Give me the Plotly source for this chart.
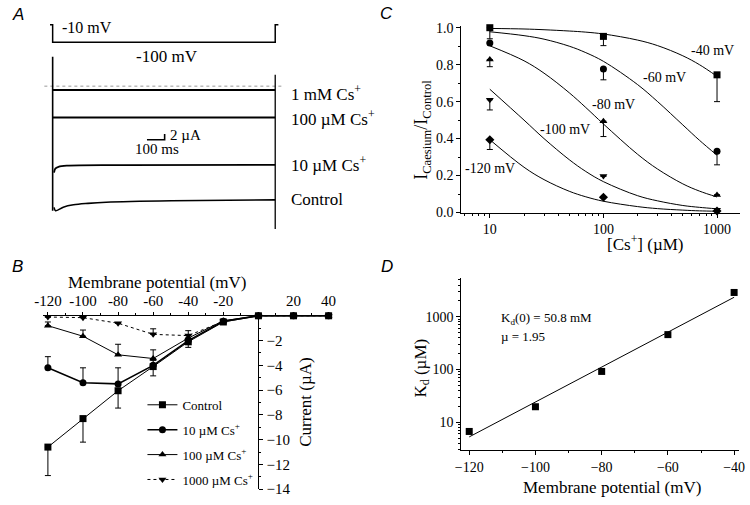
import plotly.graph_objects as go

W, H = 750, 505
def px(x): return x / W
def py(y): return 1 - y / H

SERIF = "Liberation Serif"
SANS = "Liberation Sans"

# ---------------- Panel A data ----------------
prot_t = [-15, 0, 0, 1260, 1260, 1278]          # ms
prot_v = [-10, -10, -100, -100, -10, -10]       # mV
flat_t = [0, 1260]
cs1mM_i = [-1.3, -1.3]                            # µA
cs100_i = [-10.7, -10.7]
cs10_t = [8, 15, 33, 80, 400, 1260]
cs10_i = [-29.6, -28.2, -27.6, -27.2, -27.0, -26.9]
ctrl_t = [8, 16, 60, 118, 200, 303, 673, 1260]
ctrl_i = [-41.5, -42.6, -41.4, -40.6, -40.1, -39.7, -39.2, -38.9]
on_t = [0, 0]
on_i = [10.1, -42.6]
off_t = [1260, 1260]
off_i = [3.9, -48.9]
zero_t = [-47, 1305]
zero_i = [0, 0]
bar_t = [534, 634, 634]
bar_i = [-18.33, -18.33, -16.33]

# ---------------- Panel B data ----------------
iv_v = [-120, -100, -80, -60, -40, -20, 0, 20, 40]
iv_ctrl = [-10.6, -8.3, -6.05, -4.1, -2.1, -0.5, 0, 0, 0]
iv_ctrl_err = [2.3, 1.9, 1.4, 0.75, 0.45, 0.1, 0, 0, 0]
iv_cs10 = [-4.2, -5.4, -5.5, -4.0, -2.0, -0.45, 0, 0, 0]
iv_cs10_err = [0.9, 1.2, 1.3, 0.4, 0.2, 0, 0, 0, 0]
iv_cs100 = [-0.8, -1.65, -3.15, -3.45, -1.8, -0.4, 0, 0, 0]
iv_cs100_err = [0.3, 0.5, 0.85, 0.7, 0.2, 0, 0, 0, 0]
iv_cs1000 = [-0.1, -0.15, -0.6, -1.5, -1.6, -0.45, 0, 0, 0]
iv_cs1000_err = [0, 0, 0, 0.45, 0.4, 0, 0, 0, 0]
iv_names = ["Control", "10 µM Cs<sup>+</sup>", "100 µM Cs<sup>+</sup>", "1000 µM Cs<sup>+</sup>"]

# ---------------- Panel C data ----------------
conc = [10, 100, 1000]
c40 = [1.0, 0.953, 0.745]
c40_err = [0.06, 0.05, 0.145]
c60 = [0.917, 0.776, 0.332]
c60_err = [0.0, 0.058, 0.074]
c80 = [0.828, 0.494, 0.095]
c80_err = [0.039, 0.083, 0.0]
c100 = [0.61, 0.197, 0.015]
c100_err = [0.055, 0.0, 0.0]
c120 = [0.394, 0.083, 0.008]
c120_err = [0.053, 0.0, 0.0]
fit_conc = [10, 20, 30, 50, 70, 100, 200, 300, 500, 700, 1000]
fit40 = [0.996, 0.993, 0.989, 0.982, 0.976, 0.966, 0.933, 0.903, 0.848, 0.800, 0.737]
fit60 = [0.978, 0.957, 0.938, 0.900, 0.865, 0.818, 0.692, 0.600, 0.474, 0.391, 0.310]
fit80 = [0.902, 0.821, 0.754, 0.648, 0.568, 0.479, 0.315, 0.235, 0.155, 0.116, 0.084]
fit100 = [0.667, 0.500, 0.400, 0.286, 0.222, 0.167, 0.091, 0.063, 0.038, 0.028, 0.020]
fit120 = [0.394, 0.245, 0.178, 0.115, 0.085, 0.061, 0.032, 0.021, 0.013, 0.009, 0.007]
c_labels = ["-40 mV", "-60 mV", "-80 mV", "-100 mV", "-120 mV"]

# ---------------- Panel D data ----------------
kd_v = [-120, -100, -80, -60, -40]
kd_vals = [6.7, 19.7, 92, 459, 2890]
kdfit_v = [-120, -40]
kdfit_vals = [5.28, 2345]

fig = go.Figure()
BLK = "black"

# ---- Panel A traces (x4/y4, protocol on x4/y5) ----
fig.add_trace(go.Scatter(x=prot_t, y=prot_v, xaxis="x4", yaxis="y5", mode="lines",
                         line=dict(color=BLK, width=1.5), showlegend=False))
fig.add_trace(go.Scatter(x=zero_t, y=zero_i, xaxis="x4", yaxis="y4", mode="lines",
                         line=dict(color="#999999", width=1, dash="dot"), showlegend=False))
for tt, ii, w in [(flat_t, cs1mM_i, 2), (flat_t, cs100_i, 2), (cs10_t, cs10_i, 1.8),
                  (ctrl_t, ctrl_i, 1.6), (on_t, on_i, 1.6), (off_t, off_i, 1.3),
                  (bar_t, bar_i, 1.6)]:
    fig.add_trace(go.Scatter(x=tt, y=ii, xaxis="x4", yaxis="y4", mode="lines",
                             line=dict(color=BLK, width=w, shape="spline" if len(tt) > 3 else "linear"),
                             showlegend=False))

# ---- Panel B traces ----
iv_series = [
    (iv_ctrl, iv_ctrl_err, "square", "solid", 1, True),
    (iv_cs10, iv_cs10_err, "circle", "solid", 1.6, False),
    (iv_cs100, iv_cs100_err, "triangle-up", "solid", 1, False),
    (iv_cs1000, iv_cs1000_err, "triangle-down", "dot", 1, False),
]
for k, (vals, err, sym, dash, lw, down) in enumerate(iv_series):
    zeros = [0] * len(err)
    ey = dict(type="data", symmetric=False,
              array=zeros if down else err, arrayminus=err if down else zeros,
              color=BLK, thickness=1, width=3)
    fig.add_trace(go.Scatter(x=iv_v, y=vals, xaxis="x", yaxis="y", mode="lines+markers",
                             name=iv_names[k], legendgroup=f"g{k}",
                             marker=dict(symbol=sym, size=7, color=BLK),
                             line=dict(color=BLK, width=lw, dash=dash),
                             error_y=ey, cliponaxis=False))

# ---- Panel C traces ----
for fit in [fit40, fit60, fit80, fit100, fit120]:
    fig.add_trace(go.Scatter(x=fit_conc, y=fit, xaxis="x2", yaxis="y2", mode="lines",
                             line=dict(color=BLK, width=1, shape="spline"), showlegend=False))
for vals, err, sym in [(c40, c40_err, "square"), (c60, c60_err, "circle"),
                       (c80, c80_err, "triangle-up"), (c100, c100_err, "triangle-down"),
                       (c120, c120_err, "diamond")]:
    fig.add_trace(go.Scatter(x=conc, y=vals, xaxis="x2", yaxis="y2", mode="markers",
                             marker=dict(symbol=sym, size=7, color=BLK),
                             error_y=dict(type="data", symmetric=False, array=[0, 0, 0],
                                          arrayminus=err, color=BLK, thickness=1, width=3),
                             cliponaxis=False, showlegend=False))

# ---- Panel D traces ----
fig.add_trace(go.Scatter(x=kdfit_v, y=kdfit_vals, xaxis="x3", yaxis="y3", mode="lines",
                         line=dict(color=BLK, width=1), showlegend=False))
fig.add_trace(go.Scatter(x=kd_v, y=kd_vals, xaxis="x3", yaxis="y3", mode="markers",
                         marker=dict(symbol="square", size=7, color=BLK),
                         cliponaxis=False, showlegend=False))

axis_common = dict(showline=True, linecolor=BLK, linewidth=1, ticks="outside", ticklen=4,
                   tickcolor=BLK, showgrid=False, zeroline=False,
                   tickfont=dict(family=SERIF, size=15, color=BLK))

b_x = dict(axis_common, range=[-123, 42], domain=[px(35.3), px(330.3)], anchor="y", side="top",
           ticklen=3,
           tickvals=[-120, -100, -80, -60, -40, -20, 0, 20, 40],
           ticktext=["-120", "-100", "-80", "-60", "-40", "-20", "", "20", "40"],
           minor=dict(dtick=10, ticks="outside", ticklen=2, tickcolor=BLK))
b_y = dict(axis_common, range=[-14, 0], domain=[py(497), py(319)], anchor="free",
           position=px(255.2), side="right",
           tickvals=[-14, -12, -10, -8, -6, -4, -2],
           minor=dict(dtick=1, ticks="outside", ticklen=2, tickcolor=BLK))

c_x = dict(axis_common, type="log", range=[0.7495, 3.203], domain=[px(462), px(746)], anchor="y2",
           tickvals=[10, 100, 1000], ticktext=["10", "100", "1000"],
           tickfont=dict(family=SERIF, size=14, color=BLK),
           minor=dict(tickvals=[6, 7, 8, 9, 20, 30, 40, 50, 60, 70, 80, 90,
                                200, 300, 400, 500, 600, 700, 800, 900],
                      ticks="outside", ticklen=2, tickcolor=BLK))
c_y = dict(axis_common, range=[0, 1.01], domain=[py(213), py(21.4)], anchor="x2",
           tickvals=[0, 0.2, 0.4, 0.6, 0.8, 1.0],
           ticktext=["0.0", "0.2", "0.4", "0.6", "0.8", "1.0"],
           tickfont=dict(family=SERIF, size=14, color=BLK),
           minor=dict(dtick=0.1, ticks="outside", ticklen=2, tickcolor=BLK))

d_x = dict(axis_common, range=[-122.37, -38.5], domain=[px(462), px(745)], anchor="y3",
           tickvals=[-120, -100, -80, -60, -40],
           tickfont=dict(family=SERIF, size=14, color=BLK),
           minor=dict(dtick=10, ticks="outside", ticklen=2, tickcolor=BLK))
d_y = dict(axis_common, type="log", range=[0.4755, 3.739], domain=[py(456.7), py(280)], anchor="x3",
           tickvals=[10, 100, 1000], ticktext=["10", "100", "1000"],
           tickfont=dict(family=SERIF, size=14, color=BLK),
           minor=dict(tickvals=[3, 4, 5, 6, 7, 8, 9, 20, 30, 40, 50, 60, 70, 80, 90,
                                200, 300, 400, 500, 600, 700, 800, 900, 2000, 3000, 4000, 5000],
                      ticks="outside", ticklen=2, tickcolor=BLK))

a_x = dict(range=[-86.1, 1413.9], domain=[px(30), px(300)], anchor="y4", visible=False)
a_y = dict(range=[-52.23, 12.77], domain=[py(240), py(45)], anchor="x4", visible=False)
a_y2 = dict(range=[-133.5, 41.5], domain=[py(45), py(10)], anchor="x4", visible=False)

ann = []
def txt(x, y, s, size=16, xanchor="left", angle=0, family=SERIF):
    ann.append(dict(x=px(x), y=py(y), xref="paper", yref="paper", text=s, showarrow=False,
                    xanchor=xanchor, yanchor="middle", textangle=angle,
                    font=dict(family=family, size=size, color=BLK)))

# panel letters
for lx, ly, s in [(10, 10, "A"), (10, 268, "B"), (386, 9, "C"), (386, 268, "D")]:
    txt(lx, ly, f"<i>{s}</i>", size=17, xanchor="center", family=SANS)

# panel A texts
txt(53, 23, "-10 mV", 16)
txt(128, 53, "-100 mV", 17)
txt(286, 90, "1 mM Cs<sup>+</sup>", 17)
txt(286, 116, "100 µM Cs<sup>+</sup>", 17)
txt(286, 163, "10 µM Cs<sup>+</sup>", 17)
txt(286, 200, "Control", 17)
txt(163, 133, "2 µA", 15)
txt(152, 148, "100 ms", 15, xanchor="center")

# panel B titles
txt(152, 285, "Membrane potential (mV)", 17, xanchor="center")
txt(303, 407, "Current (µA)", 17, xanchor="center", angle=-90)

# panel C titles and curve labels
txt(423, 128, "I<sub>Caesium</sub>/I<sub>Control</sub>", 18, xanchor="center", angle=-90)
txt(650, 244, "[Cs<sup>+</sup>] (µM)", 17, xanchor="center")
for (cx, cy), s in zip([(718, 47), (669, 74), (617, 102), (568, 128), (491, 168)], c_labels):
    txt(cx, cy, s, 14, xanchor="center")

# panel D titles
txt(422, 373, "K<sub>d</sub> (µM)", 17, xanchor="center", angle=-90)
txt(615, 495, "Membrane potential (mV)", 17, xanchor="center")
txt(500, 322, "K<sub>d</sub>(0) = 50.8 mM", 13)
txt(500, 340, "µ = 1.95", 13)

fig.update_layout(
    width=W, height=H, margin=dict(l=0, r=0, t=0, b=0),
    paper_bgcolor="white", plot_bgcolor="rgba(0,0,0,0)",
    font=dict(family=SERIF, color=BLK),
    xaxis=b_x, yaxis=b_y, xaxis2=c_x, yaxis2=c_y, xaxis3=d_x, yaxis3=d_y,
    xaxis4=a_x, yaxis4=a_y, yaxis5=a_y2,
    showlegend=True,
    legend=dict(x=px(137), y=py(395), xanchor="left", yanchor="top",
                bgcolor="rgba(0,0,0,0)", font=dict(family=SERIF, size=13, color=BLK),
                tracegroupgap=5, itemwidth=30),
    annotations=ann,
)

fig.write_html("out.html", config={"displayModeBar": False},
               post_script="document.body.style.margin='0px';document.body.style.overflow='hidden';")
